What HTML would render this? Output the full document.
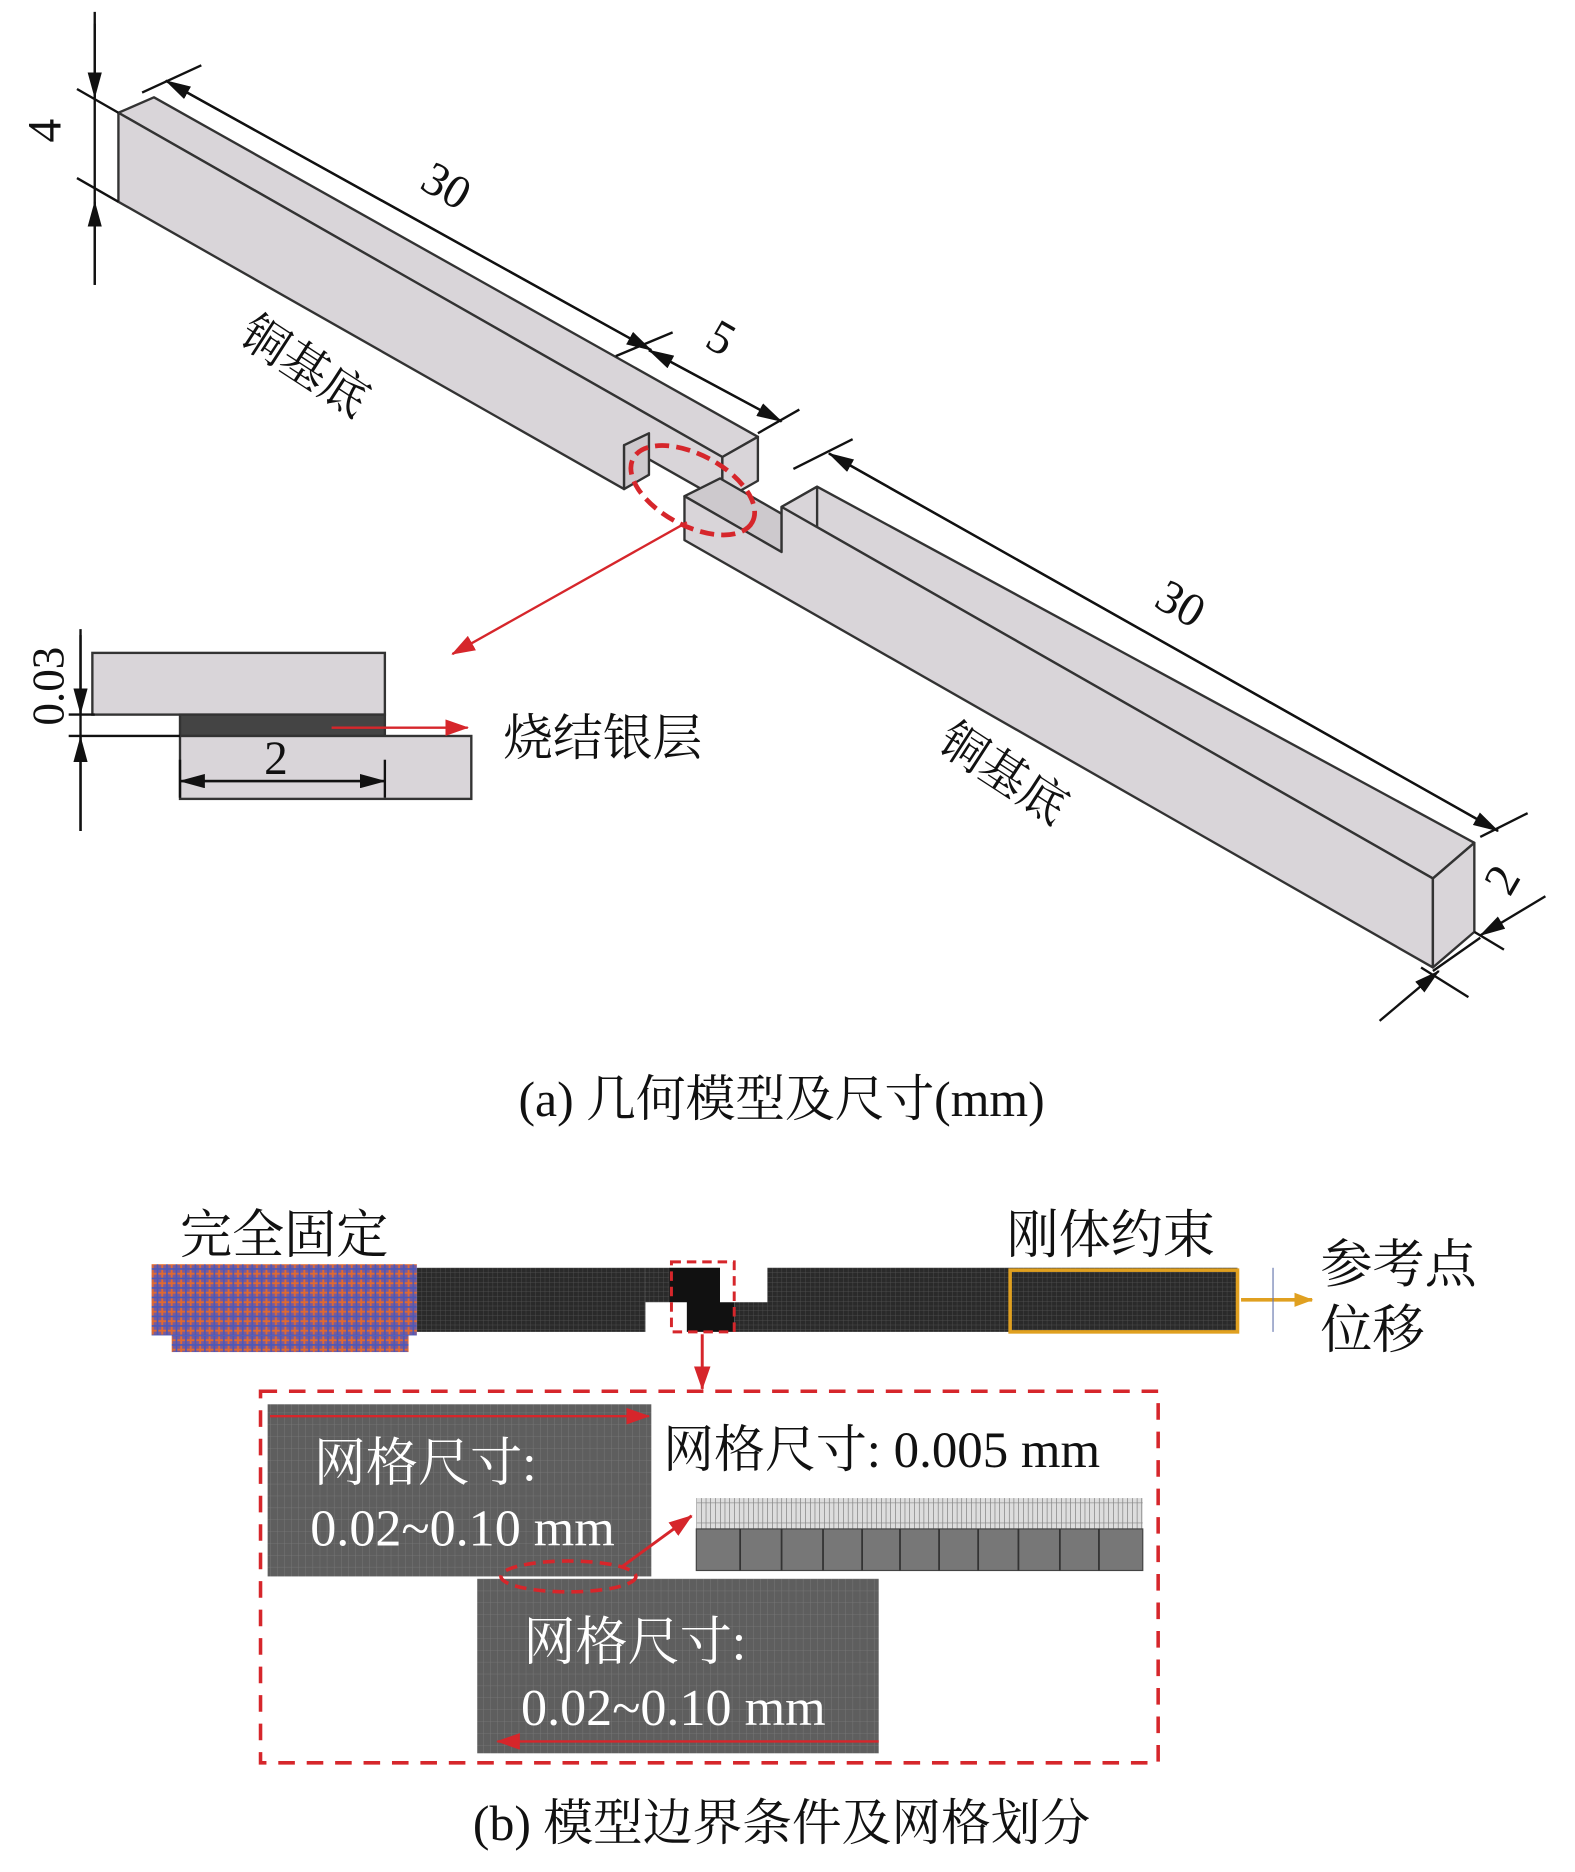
<!DOCTYPE html>
<html><head><meta charset="utf-8"><style>
html,body{margin:0;padding:0;background:#fff;}
svg{display:block;}
text{font-family:"Liberation Serif","Noto Serif CJK SC","Noto Sans CJK SC",serif;}
</style></head><body>
<svg width="1575" height="1872" viewBox="0 0 1330 1577" preserveAspectRatio="none" xmlns="http://www.w3.org/2000/svg">
<defs>
<marker id="abl" viewBox="0 0 22 12" markerWidth="22" markerHeight="12" refX="21" refY="6" orient="auto" markerUnits="userSpaceOnUse"><path d="M0,0 L22,6 L0,12 z" fill="#111"/></marker>
<marker id="ar" viewBox="0 0 20 14" markerWidth="20" markerHeight="14" refX="19" refY="7" orient="auto" markerUnits="userSpaceOnUse"><path d="M0,0 L20,7 L0,14 z" fill="#d6262b"/></marker>
<marker id="ao" viewBox="0 0 16 12" markerWidth="16" markerHeight="12" refX="15" refY="6" orient="auto" markerUnits="userSpaceOnUse"><path d="M0,0 L16,6 L0,12 z" fill="#e0a020"/></marker>
<pattern id="gd" width="4" height="4" patternUnits="userSpaceOnUse"><rect width="4" height="4" fill="#2a2a2a"/><path d="M0,0H4M0,0V4" stroke="#555" stroke-width="0.6"/></pattern>
<pattern id="gg" width="6" height="10" patternUnits="userSpaceOnUse"><rect width="6" height="10" fill="#5e5e5e"/><path d="M0,0H6M0,0V10" stroke="#7a7a7a" stroke-width="0.7"/></pattern>
<pattern id="gf" width="4" height="26" patternUnits="userSpaceOnUse"><rect width="4" height="26" fill="#ddd"/><path d="M0,0V26" stroke="#555" stroke-width="0.8"/><path d="M0,9H4M0,18H4" stroke="#888" stroke-width="0.5"/></pattern>
<pattern id="go" width="8" height="8" patternUnits="userSpaceOnUse"><rect width="8" height="8" fill="#7a5a9a"/><path d="M0,1H8M1,0V8" stroke="#e06a30" stroke-width="1.6"/><path d="M0,5H8M5,0V8" stroke="#4a58b8" stroke-width="1.4"/></pattern>
</defs>

<g stroke="#333" stroke-width="2" fill="#d9d5d9" stroke-linejoin="round">
<!-- Left bar -->
<polygon points="100,95 130,82 640,368 610,385"/>
<polygon points="100,95 610,385 610,422 527,375 527,412 100,170"/>
<polygon points="610,385 640,368 640,405 610,422"/>
<polygon points="527,375 548,365 548,400 527,412" fill="#cdc9cd"/>
<!-- Right bar -->
<polygon points="578,418 608,403 690,450 660,465" fill="#cdc9cd"/>
<polygon points="660,427 690,410 1245,710 1210,740"/>
<polygon points="660,427 690,410 690,448 660,465"/>
<polygon points="578,418 660,465 660,427 1210,740 1210,815 578,455"/>
<polygon points="1210,740 1245,710 1245,785 1210,815"/>
</g>

<g stroke="#111" stroke-width="2" fill="none">
<line x1="80" y1="10" x2="80" y2="240"/>
<line x1="80" y1="20" x2="80" y2="82" marker-end="url(#abl)"/>
<line x1="80" y1="240" x2="80" y2="170" marker-end="url(#abl)"/>
<line x1="65" y1="75" x2="100" y2="95"/>
<line x1="65" y1="150" x2="100" y2="170"/>
<line x1="120" y1="78" x2="170" y2="55"/>
<line x1="550" y1="295" x2="140" y2="68" marker-end="url(#abl)"/>
<line x1="140" y1="68" x2="550" y2="295" marker-end="url(#abl)"/>
<line x1="520" y1="300" x2="568" y2="280"/>
<line x1="548" y1="295" x2="660" y2="355" marker-end="url(#abl)"/>
<line x1="660" y1="355" x2="548" y2="295" marker-end="url(#abl)"/>
<line x1="640" y1="365" x2="675" y2="345"/>
<line x1="670" y1="395" x2="720" y2="370"/>
<line x1="700" y1="382" x2="1265" y2="700" marker-end="url(#abl)"/>
<line x1="1265" y1="700" x2="700" y2="382" marker-end="url(#abl)"/>
<line x1="1250" y1="705" x2="1290" y2="685"/>
<line x1="1165" y1="860" x2="1215" y2="818" marker-end="url(#abl)"/>
<line x1="1305" y1="755" x2="1250" y2="788" marker-end="url(#abl)"/>
<line x1="1210" y1="818" x2="1250" y2="790"/>
<line x1="1200" y1="815" x2="1240" y2="840"/>
<line x1="1245" y1="785" x2="1270" y2="800"/>
</g>
<g font-size="40" fill="#111">
<text x="42" y="110" transform="rotate(-90 42 110)" text-anchor="middle" dominant-baseline="middle">4</text>
<text x="375" y="160" transform="rotate(30 375 160)" text-anchor="middle" dominant-baseline="middle">30</text>
<text x="607" y="288" transform="rotate(30 607 288)" text-anchor="middle" dominant-baseline="middle">5</text>
<text x="995" y="512" transform="rotate(30 995 512)" text-anchor="middle" dominant-baseline="middle">30</text>
<text x="1272" y="743" transform="rotate(-60 1272 743)" text-anchor="middle" dominant-baseline="middle">2</text>
<text x="255" y="312" transform="rotate(33 255 312)" text-anchor="middle" dominant-baseline="middle">铜基底</text>
<text x="845" y="655" transform="rotate(33 845 655)" text-anchor="middle" dominant-baseline="middle">铜基底</text>
</g>

<ellipse cx="585" cy="413" rx="57" ry="30" transform="rotate(28 585 413)" fill="none" stroke="#d6262b" stroke-width="4" stroke-dasharray="12,6"/>
<line x1="580" y1="440" x2="382" y2="551" stroke="#d6262b" stroke-width="2" marker-end="url(#ar)"/>

<g stroke="#333" stroke-width="2" fill="#d9d5d9">
<rect x="78" y="550" width="247" height="52"/>
<rect x="152" y="602" width="173" height="18" fill="#444"/>
<rect x="152" y="620" width="246" height="53"/>
</g>
<line x1="280" y1="613" x2="395" y2="613" stroke="#d6262b" stroke-width="2" marker-end="url(#ar)"/>
<g stroke="#111" stroke-width="2">
<line x1="68" y1="530" x2="68" y2="700"/>
<line x1="68" y1="535" x2="68" y2="601" marker-end="url(#abl)"/>
<line x1="68" y1="700" x2="68" y2="621" marker-end="url(#abl)"/>
<line x1="58" y1="602" x2="80" y2="602"/>
<line x1="58" y1="620" x2="152" y2="620"/>
<line x1="152" y1="658" x2="325" y2="658" marker-end="url(#abl)"/>
<line x1="325" y1="658" x2="152" y2="658" marker-end="url(#abl)"/>
<line x1="152" y1="640" x2="152" y2="672"/>
<line x1="325" y1="640" x2="325" y2="672"/>
</g>
<text x="233" y="652" font-size="40" text-anchor="middle" fill="#111">2</text>
<text x="45" y="578" font-size="38" transform="rotate(-90 45 578)" text-anchor="middle" dominant-baseline="middle" fill="#111">0.03</text>
<text x="425" y="636" font-size="42" fill="#111">烧结银层</text>

<text x="660" y="940" font-size="42" text-anchor="middle" fill="#111">(a) 几何模型及尺寸(mm)</text>

<rect x="128" y="1065" width="224" height="60" fill="url(#go)"/>
<rect x="145" y="1125" width="200" height="14" fill="url(#go)"/>
<rect x="352" y="1068" width="193" height="54" fill="url(#gd)"/>
<rect x="545" y="1068" width="20" height="29" fill="url(#gd)"/>
<path d="M565,1068 H608 V1097 H620 V1122 H580 V1097 H565 Z" fill="#111"/>
<path d="M620,1097 H648 V1068 H1045 V1122 H620 Z" fill="url(#gd)"/>
<rect x="853" y="1070" width="192" height="52" fill="none" stroke="#e0a020" stroke-width="3"/>
<line x1="1048" y1="1095" x2="1108" y2="1095" stroke="#e0a020" stroke-width="3" marker-end="url(#ao)"/>
<line x1="1075" y1="1068" x2="1075" y2="1122" stroke="#6a7ab0" stroke-width="1"/>
<rect x="567" y="1063" width="53" height="59" fill="none" stroke="#d6262b" stroke-width="2.5" stroke-dasharray="8,5"/>
<line x1="593" y1="1124" x2="593" y2="1170" stroke="#d6262b" stroke-width="2.5" marker-end="url(#ar)"/>
<g font-size="44" fill="#111">
<text x="152" y="1055">完全固定</text>
<text x="850" y="1055">刚体约束</text>
<text x="1115" y="1080">参考点</text>
<text x="1115" y="1135">位移</text>
</g>

<rect x="220" y="1172" width="758" height="313" fill="none" stroke="#d6262b" stroke-width="3" stroke-dasharray="14,10"/>
<rect x="226" y="1183" width="324" height="145" fill="url(#gg)"/>
<rect x="403" y="1330" width="339" height="147" fill="url(#gg)"/>
<rect x="588" y="1262" width="377" height="26" fill="url(#gf)"/>
<rect x="588" y="1288" width="377" height="35" fill="#777" stroke="#444"/>
<g stroke="#333" stroke-width="1.5">
<line x1="625" y1="1288" x2="625" y2="1323"/><line x1="660" y1="1288" x2="660" y2="1323"/><line x1="695" y1="1288" x2="695" y2="1323"/><line x1="728" y1="1288" x2="728" y2="1323"/><line x1="760" y1="1288" x2="760" y2="1323"/><line x1="793" y1="1288" x2="793" y2="1323"/><line x1="826" y1="1288" x2="826" y2="1323"/><line x1="860" y1="1288" x2="860" y2="1323"/><line x1="895" y1="1288" x2="895" y2="1323"/><line x1="928" y1="1288" x2="928" y2="1323"/>
</g>
<line x1="228" y1="1193" x2="548" y2="1193" stroke="#d6262b" stroke-width="2" marker-end="url(#ar)"/>
<line x1="742" y1="1467" x2="420" y2="1467" stroke="#d6262b" stroke-width="2" marker-end="url(#ar)"/>
<ellipse cx="480" cy="1328" rx="57" ry="13" fill="none" stroke="#d6262b" stroke-width="3" stroke-dasharray="10,6"/>
<line x1="525" y1="1320" x2="584" y2="1277" stroke="#d6262b" stroke-width="2.5" marker-end="url(#ar)"/>
<g font-size="44" fill="#fff">
<text x="265" y="1247">网格尺寸:</text>
<text x="262" y="1302">0.02~0.10 mm</text>
<text x="442" y="1398">网格尺寸:</text>
<text x="440" y="1453">0.02~0.10 mm</text>
</g>
<text x="560" y="1236" font-size="43" fill="#111">网格尺寸: 0.005 mm</text>
<text x="660" y="1550" font-size="42" text-anchor="middle" fill="#111">(b) 模型边界条件及网格划分</text>
</svg>
</body></html>
